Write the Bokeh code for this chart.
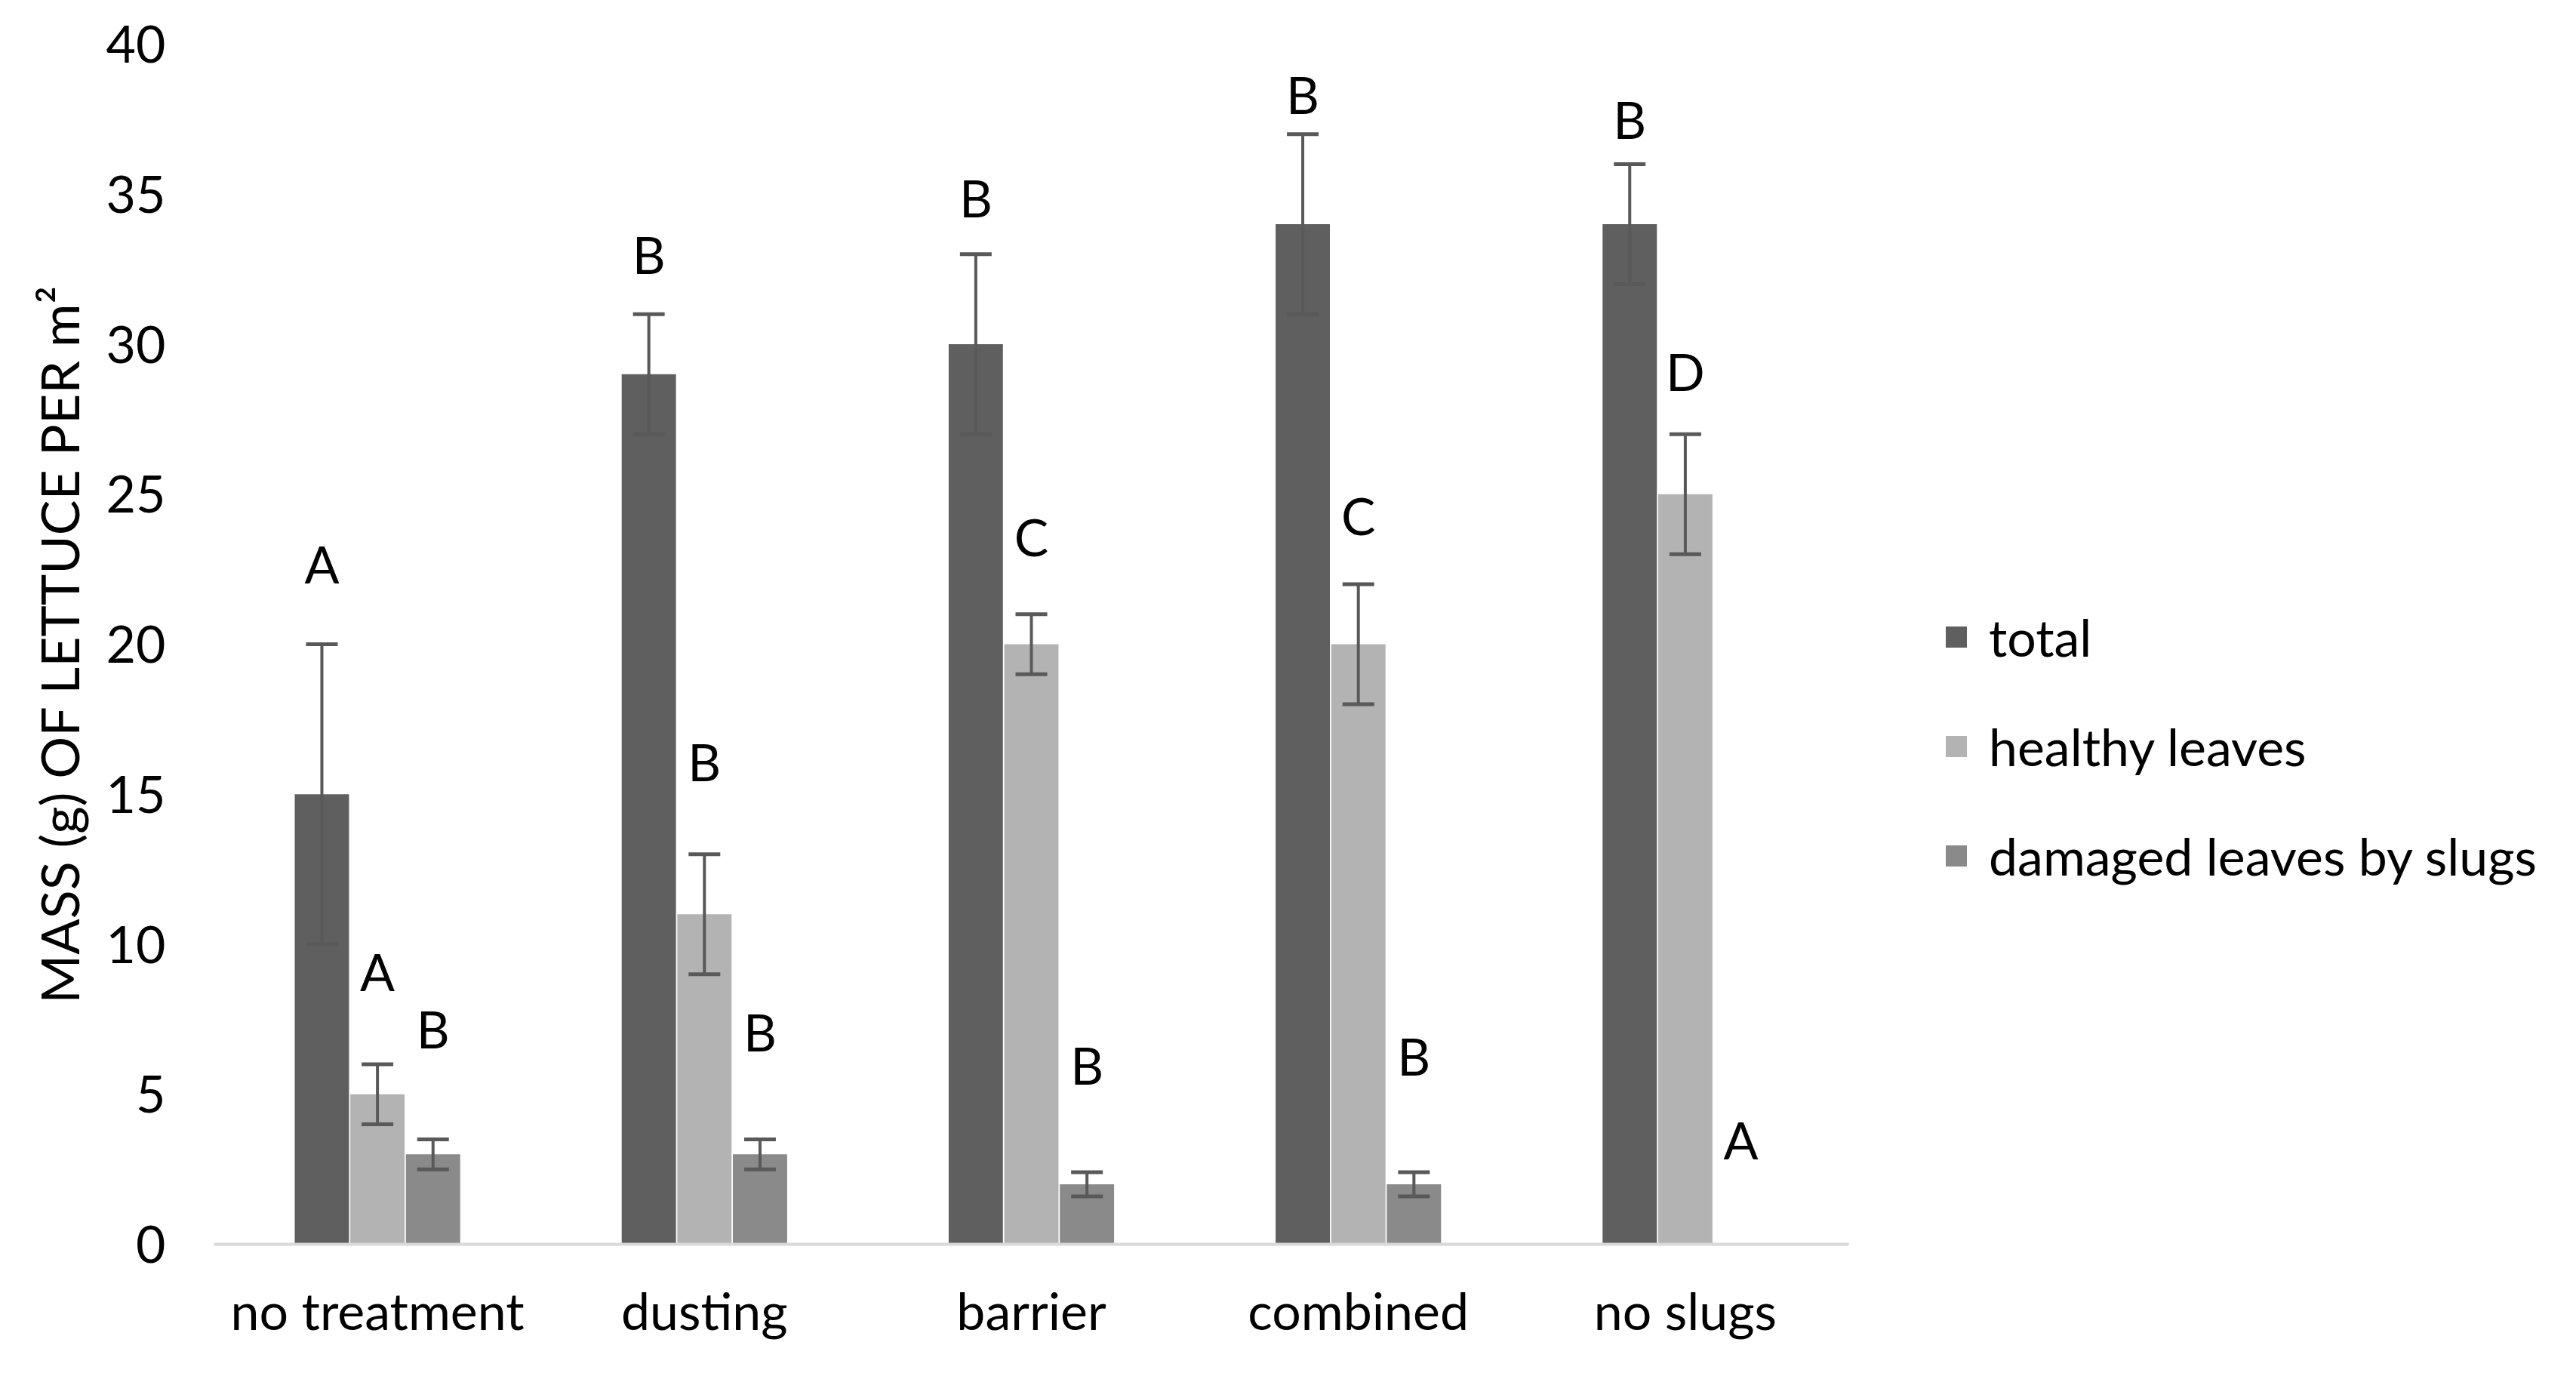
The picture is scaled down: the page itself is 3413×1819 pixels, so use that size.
from bokeh.plotting import figure
from bokeh.layouts import row
from bokeh.models import (ColumnDataSource, FactorRange, Range1d, Whisker, TeeHead,
                          Legend, LegendItem, FixedTicker)
from bokeh.transform import dodge
from bokeh.core.properties import value
from bokeh.embed import file_html
from bokeh.resources import INLINE

# ---------------- data ----------------
categories = ["no treatment", "dusting", "barrier", "combined", "no slugs"]
series_names = ["total", "healthy leaves", "damaged leaves by slugs"]

total = [15, 29, 30, 34, 34]
total_err = [5, 2, 3, 3, 2]
healthy = [5, 11, 20, 20, 25]
healthy_err = [1, 2, 1, 2, 2]
damaged = [3, 3, 2, 2, 0]
damaged_err = [0.5, 0.5, 0.4, 0.4, 0]

total_letters = ["A", "B", "B", "B", "B"]
healthy_letters = ["A", "B", "C", "C", "D"]
damaged_letters = ["B", "B", "B", "B", "A"]
total_letter_y = [22.7, 33.0, 34.9, 38.35, 37.5]
healthy_letter_y = [9.1, 16.1, 23.6, 24.3, 29.1]
damaged_letter_y = [7.2, 7.1, 6.0, 6.3, 3.5]

y_ticks = [0, 5, 10, 15, 20, 25, 30, 35, 40]
y_title = "MASS (g) OF LETTUCE PER m\u00b2"

# ---------------- style ----------------
FONT = "Lato"
FS = "68px"
colors = ["#5f5f5f", "#b3b3b3", "#8a8a8a"]
offsets = [-0.17, 0.0, 0.17]
BAR_W = 0.166
ERR_COLOR = "#595959"

p = figure(x_range=FactorRange(*categories), y_range=Range1d(0, 40),
           width=2459, height=1800, output_backend="svg", toolbar_location=None,
           min_border_left=283, min_border_right=10, min_border_top=58,
           min_border_bottom=152)
p.outline_line_color = None
p.xgrid.visible = False
p.ygrid.visible = False

vals = [total, healthy, damaged]
errs = [total_err, healthy_err, damaged_err]
letters = [total_letters, healthy_letters, damaged_letters]
letter_ys = [total_letter_y, healthy_letter_y, damaged_letter_y]

for i in range(3):
    src = ColumnDataSource(dict(x=categories, top=vals[i]))
    p.vbar(x=dodge("x", offsets[i], range=p.x_range), top="top", width=BAR_W,
           source=src, fill_color=colors[i], line_color=None)

    ex, lo, up = [], [], []
    for c, v, e in zip(categories, vals[i], errs[i]):
        if e > 0:
            ex.append(c); lo.append(v - e); up.append(v + e)
    esrc = ColumnDataSource(dict(x=ex, lower=lo, upper=up))
    w = Whisker(base=dodge("x", offsets[i], range=p.x_range), lower="lower", upper="upper",
                source=esrc, line_color=ERR_COLOR, line_width=4, level="annotation",
                upper_head=TeeHead(size=42, line_color=ERR_COLOR, line_width=5),
                lower_head=TeeHead(size=42, line_color=ERR_COLOR, line_width=5))
    p.add_layout(w)

    tsrc = ColumnDataSource(dict(x=categories, y=letter_ys[i], t=letters[i]))
    p.text(x=dodge("x", offsets[i], range=p.x_range), y="y", text="t", source=tsrc,
           text_font=value(FONT), text_font_size=value(FS), text_align="center",
           text_baseline="middle", text_color="#000000")

# axes
p.yaxis.ticker = FixedTicker(ticks=y_ticks)
p.yaxis.axis_line_color = None
p.yaxis.major_tick_line_color = None
p.yaxis.minor_tick_line_color = None
p.yaxis.major_label_standoff = 58
p.yaxis.major_label_text_font = FONT
p.yaxis.major_label_text_font_size = FS
p.yaxis.major_label_text_color = "#000000"
p.yaxis.axis_label = y_title
p.yaxis.axis_label_text_font = FONT
p.yaxis.axis_label_text_font_size = "70px"
p.yaxis.axis_label_text_font_style = "normal"
p.yaxis.axis_label_text_color = "#000000"
p.yaxis.axis_label_standoff = 18

p.xaxis.axis_line_color = "#d9d9d9"
p.xaxis.axis_line_width = 4
p.xaxis.major_tick_line_color = None
p.xaxis.minor_tick_line_color = None
p.xaxis.major_label_standoff = 40
p.xaxis.major_label_text_font = FONT
p.xaxis.major_label_text_font_size = FS
p.xaxis.major_label_text_color = "#000000"

# legend panel (separate figure so the legend is not clipped)
p2 = figure(width=931, height=1800, x_range=Range1d(0, 1), y_range=Range1d(0, 1),
            x_axis_type=None, y_axis_type=None, output_backend="svg",
            toolbar_location=None, min_border_left=0, min_border_right=0,
            min_border_top=58, min_border_bottom=152)
p2.outline_line_color = None
p2.grid.visible = False
leg_renderers = []
for i in range(3):
    # zero-height proxy bars: invisible, only used as legend glyph sources
    proxy = ColumnDataSource(dict(x=[0.5], top=[0.0]))
    leg_renderers.append(p2.vbar(x="x", top="top", width=0.1, source=proxy,
                                 fill_color=colors[i], line_color=None))

legend = Legend(items=[LegendItem(label=n, renderers=[r]) for n, r in zip(series_names, leg_renderers)],
                location=(115, 474), orientation="vertical",
                glyph_width=35, glyph_height=35, label_height=35, label_standoff=26,
                spacing=64, padding=0, margin=0, border_line_color=None,
                background_fill_alpha=0, label_text_font=FONT, label_text_font_size=FS,
                label_text_color="#000000")
p2.add_layout(legend)

layout = row(p, p2)
open("out.html", "w").write(file_html(layout, INLINE))
